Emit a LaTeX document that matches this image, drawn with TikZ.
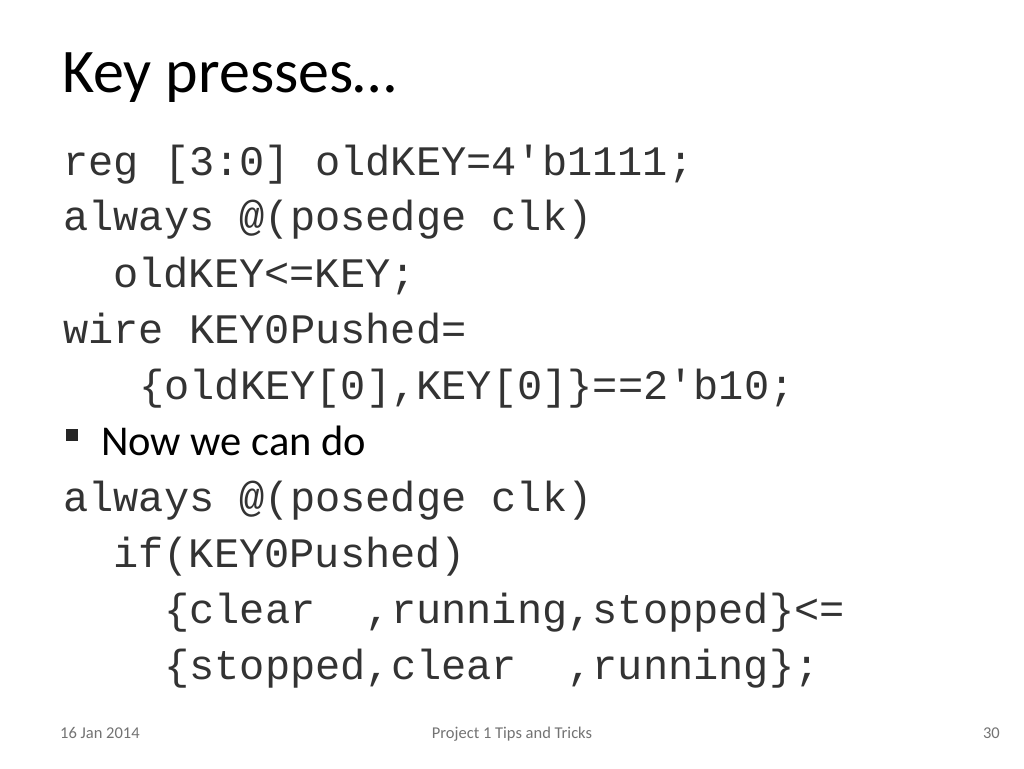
\documentclass[tikz,border=0pt]{standalone}
\usepackage{fontspec}
\setmainfont{Carlito}
\setmonofont{Liberation Mono}
\begin{document}
\begin{tikzpicture}[x=1pt,y=-1pt,
  code/.style={anchor=base west,inner sep=0pt,font=\fontsize{42}{42}\selectfont\ttfamily,text=black!80},
  foot/.style={inner sep=0pt,font=\fontsize{16.5}{16.5}\selectfont,text=black!55}]
\useasboundingbox[fill=white] (0,0) rectangle (1024,768);
\node[anchor=base west,inner sep=0pt,font=\fontsize{62}{62}\selectfont] (title) at (62,92) {Key presses…};
\node[code] (l1) at (63,175) {reg [3:0] oldKEY=4'b1111;};
\node[code] (l2) at (63,230) {always @(posedge clk)};
\node[code] (l3) at (113,287) {oldKEY<=KEY;};
\node[code] (l4) at (63,343) {wire KEY0Pushed=};
\node[code] (l5) at (139,399) {\{oldKEY[0],KEY[0]\}==2'b10;};
\fill[black!85] (66,429) rectangle (78,441);
\node[anchor=base west,inner sep=0pt,font=\fontsize{42.5}{42.5}\selectfont] (bul) at (101,455) {Now we can do};
\node[code] (l7) at (63,511) {always @(posedge clk)};
\node[code] (l8) at (113,567) {if(KEY0Pushed)};
\node[code] (l9) at (164,623) {\{clear\ \ ,running,stopped\}<=};
\node[code] (l10) at (164,679) {\{stopped,clear\ \ ,running\};};
\node[foot,anchor=base west] (date) at (60,738) {16 Jan 2014};
\node[foot,anchor=base] (mid) at (512,738) {Project 1 Tips and Tricks};
\node[foot,anchor=base east] (num) at (1000,738) {30};
\end{tikzpicture}
\end{document}
